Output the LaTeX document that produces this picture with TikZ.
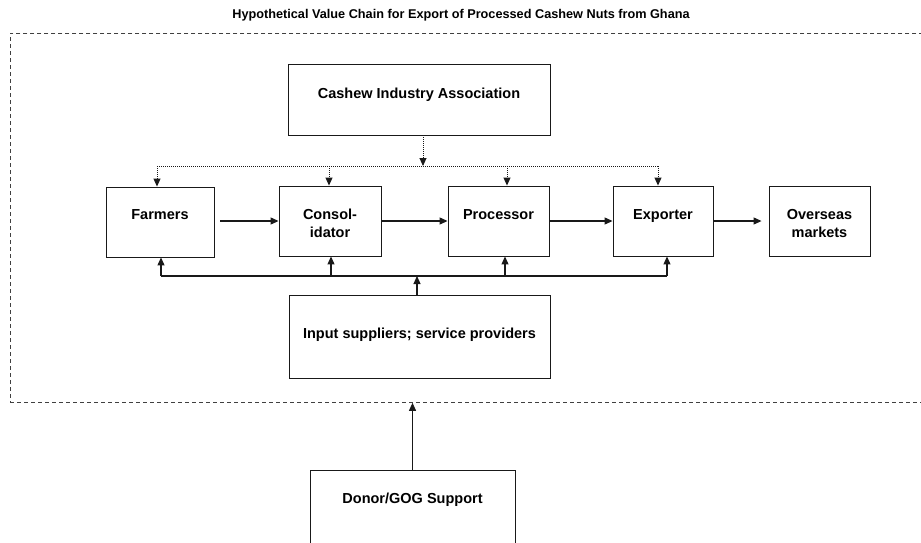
\documentclass[tikz,border=0pt]{standalone}
\usepackage{fontspec}
\setmainfont{Liberation Sans}
\usetikzlibrary{arrows.meta}
\begin{document}
\begin{tikzpicture}[x=1pt,y=-1pt,
  box/.style={draw=black!90, line width=0.9pt, inner sep=0pt},
  lbl/.style={font=\bfseries\fontsize{14.5}{18}\selectfont, align=center, anchor=base, inner sep=0pt},
  flow/.style={draw=black!90, line width=1.1pt, -{Triangle[length=8pt,width=7pt]}},
  bus/.style={draw=black!90, line width=1.1pt},
  dotline/.style={draw=black!90, line width=0.9pt, dash pattern=on 1pt off 1pt},
  dotflow/.style={dotline, -{Triangle[length=8pt,width=7pt]}},
  framebox/.style={draw=black!75, line width=0.8pt, dash pattern=on 4pt off 3pt, inner sep=0pt}]
\useasboundingbox (0,0) rectangle (921,542);

% title
\node[font=\bfseries\fontsize{12.7}{15}\selectfont, anchor=base, inner sep=0pt] (title) at (461,18)
  {Hypothetical Value Chain for Export of Processed Cashew Nuts from Ghana};

% dashed frame
\node[framebox, minimum width=930pt, minimum height=369pt, anchor=north west] (frame) at (10,33) {};

% boxes
\node[box, minimum width=262pt, minimum height=71pt] (cia) at (419,99.5) {};
\node[box, minimum width=108pt, minimum height=70pt] (farm) at (160,222) {};
\node[box, minimum width=102pt, minimum height=70pt] (cons) at (330,221) {};
\node[box, minimum width=101pt, minimum height=70pt] (proc) at (498.5,221) {};
\node[box, minimum width=100pt, minimum height=70pt] (expo) at (663,221) {};
\node[box, minimum width=101pt, minimum height=70pt] (over) at (819.5,221) {};
\node[box, minimum width=261pt, minimum height=83pt] (inp) at (419.5,336.5) {};
\node[box, minimum width=205pt, minimum height=130pt] (don) at (412.5,535) {};

% labels
\node[lbl] (ciaT) at (419,98) {Cashew Industry Association};
\node[lbl] (farmT) at (160,219) {Farmers};
\node[lbl] (consT) at (330,237) {Consol-\\idator};
\node[lbl] (procT) at (498.5,219) {Processor};
\node[lbl] (expoT) at (663,219) {Exporter};
\node[lbl] (overT) at (819.5,237) {Overseas\\markets};
\node[lbl] (inpT) at (419.5,338) {Input suppliers; service providers};
\node[lbl] (donT) at (412.5,503) {Donor/GOG Support};

% main flow
\draw[flow, shorten <=6pt] (farm.east |- 0,221) -- (cons.west);
\draw[flow] (cons.east) -- (proc.west);
\draw[flow] (proc.east) -- (expo.west);
\draw[flow, shorten >=7pt] (expo.east) -- (over.west);

% association dotted tree
\coordinate (dL) at (157,166);
\coordinate (dC) at (423,166);
\coordinate (dP) at (507,166);
\coordinate (dK) at (329,166);
\coordinate (dR) at (658,166);
\draw[dotline] (dL) -- (dR);
\draw[dotflow] (cia.south -| dC) -- (dC);
\draw[dotflow] (dL) -- (dL |- farm.north);
\draw[dotflow] (dK) -- (dK |- cons.north);
\draw[dotflow] (dP) -- (dP |- proc.north);
\draw[dotflow] (dR) -- (dR |- expo.north);

% input bus
\coordinate (bL) at (161,276);
\coordinate (b2) at (331,276);
\coordinate (b3) at (505,276);
\coordinate (bR) at (667,276);
\coordinate (bI) at (417,276);
\draw[bus] (bL) -- (bR);
\draw[flow] (bL) -- (bL |- farm.south);
\draw[flow] (b2) -- (b2 |- cons.south);
\draw[flow] (b3) -- (b3 |- proc.south);
\draw[flow] (bR) -- (bR |- expo.south);
\draw[flow] (bI |- inp.north) -- (bI);

% donor support
\draw[flow, line width=0.9pt] (don.north) -- (don.north |- frame.south);
\end{tikzpicture}
\end{document}
